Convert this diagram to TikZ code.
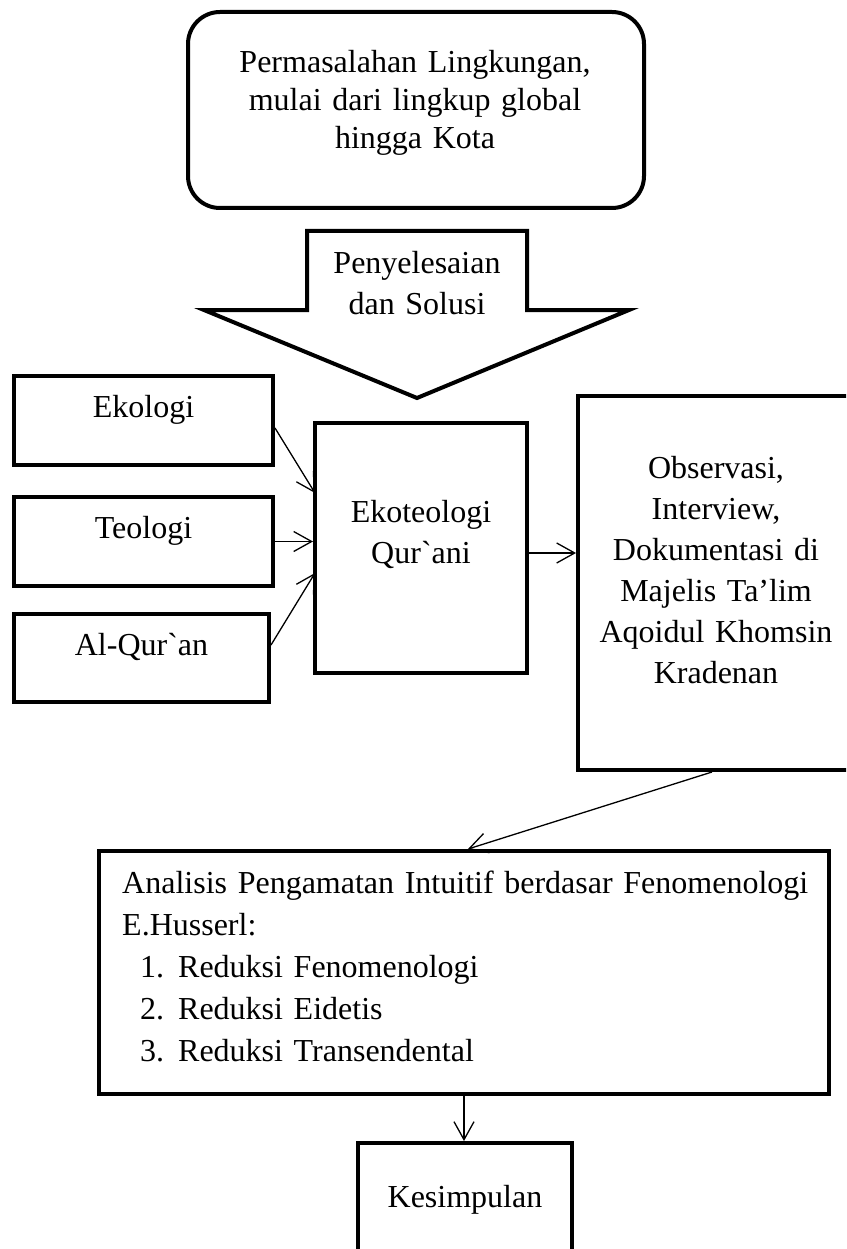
\documentclass[tikz,border=0pt]{standalone}
\usepackage{fontspec}
\setmainfont{Liberation Serif}
\usetikzlibrary{arrows.meta}
\newcommand{\grv}{\XeTeXglyph\XeTeXglyphindex "grave"\relax}
\begin{document}
\begin{tikzpicture}[x=1pt,y=-1pt,
  box/.style={draw, line width=4pt, inner sep=0pt, outer sep=2pt},
  link/.style={line width=1.3pt, -{Straight Barb[length=18pt,width=20pt,line width=1.3pt]}},
  lbl/.style={inner sep=0pt, anchor=base, align=center, text width=#1},
  f38/.style={font=\fontsize{32}{38}\selectfont},
  f41/.style={font=\fontsize{32}{41}\selectfont},
  f42/.style={font=\fontsize{32}{42}\selectfont}]
\useasboundingbox (0,0) rectangle (846,1249);
\fill[white] (0,0) rectangle (846,1249);
\clip (0,0) rectangle (846,1249);

% top box
\node[box, rounded corners=32pt, minimum width=456pt, minimum height=196pt] (masalah) at (416,110) {};
\node[lbl=440pt, f38] (masalahtxt) at (415,72.5) {Permasalahan Lingkungan,\\ mulai dari lingkup global\\ hingga Kota};

% big arrow
\draw[line width=4pt, line join=miter] (307,231) -- (527,231) -- (527,310) -- (629,310) -- (417,398) -- (204,310) -- (307,310) -- cycle;
\node[lbl=220pt, f41] (solusi) at (417,273) {Penyelesaian\\ dan Solusi};

% left boxes
\node[box, minimum width=259pt, minimum height=89pt] (ekologi) at (143.5,420) {};
\node[lbl=240pt, f41] (ekologitxt) at (143.5,417) {Ekologi};
\node[box, minimum width=259pt, minimum height=89pt] (teologi) at (143.5,541.5) {};
\node[lbl=240pt, f41] (teologitxt) at (143.5,538) {Teologi};
\node[box, minimum width=255pt, minimum height=88pt] (alquran) at (141.5,658) {};
\node[lbl=240pt, f41] (alqurantxt) at (141.5,655) {Al-Qur\grv an};

% center box
\node[box, minimum width=212pt, minimum height=250pt] (ekoteo) at (421,548) {};
\node[lbl=200pt, f41] (ekoteotxt) at (421,522) {Ekoteologi\\ Qur\grv ani};

% right box
\node[box, minimum width=276pt, minimum height=374pt] (obs) at (716,583) {};
\node[lbl=260pt, f41] (obstxt) at (716,478) {Observasi,\\ Interview,\\ Dokumentasi di\\ Majelis Ta’lim\\ Aqoidul Khomsin\\ Kradenan};

% analysis box
\node[box, minimum width=730pt, minimum height=243pt] (analisis) at (464,972.5) {};
\node[inner sep=0pt, anchor=base west, align=left, text width=700pt, f42] (analisistxt) at (122,893)
  {\makebox[685pt][s]{Analisis Pengamatan Intuitif berdasar Fenomenologi}\\
   E.Husserl:\\
   \hspace*{18pt}\makebox[38pt][l]{1.}Reduksi Fenomenologi\\
   \hspace*{18pt}\makebox[38pt][l]{2.}Reduksi Eidetis\\
   \hspace*{18pt}\makebox[38pt][l]{3.}Reduksi Transendental};

% conclusion
\node[box, minimum width=214pt, minimum height=150pt] (kesimpulan) at (465,1218) {};
\node[lbl=200pt, f41] (kesimpulantxt) at (465,1207) {Kesimpulan};

% connectors
\draw[link] ([yshift=-8pt]ekologi.east) -- ([xshift=2pt,yshift=55pt]ekoteo.west);
\draw[link] (teologi.east) -- (teologi.east -| ekoteo.west);
\draw[link] ([yshift=13pt]alquran.east) -- ([xshift=2pt,yshift=-25pt]ekoteo.west);
\draw[link] ([yshift=-5pt]ekoteo.east) -- ([yshift=-5pt]ekoteo.east -| obs.west);
\draw[link] ([xshift=-4pt]obs.south) -- ([xshift=4pt]analisis.north);
\draw[link] (analisis.south) -- (analisis.south |- kesimpulan.north);
\end{tikzpicture}
\end{document}
